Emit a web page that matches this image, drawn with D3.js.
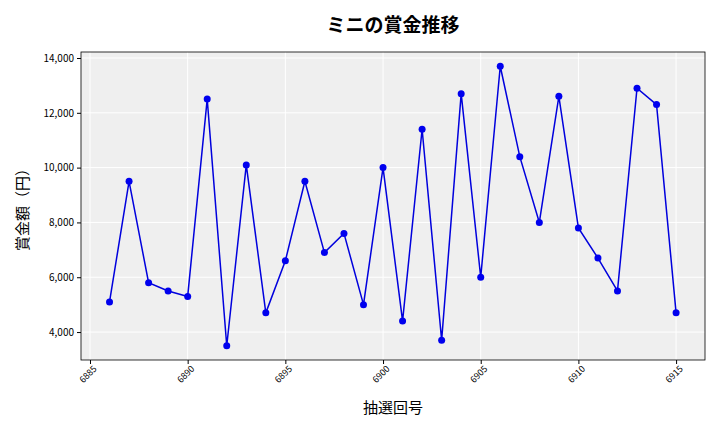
<!DOCTYPE html>
<html><head><meta charset="utf-8">
<script src="https://cdn.jsdelivr.net/npm/d3@7"></script>
<style>body{margin:0;background:#fff}text{font-family:"Noto Sans CJK JP","DejaVu Sans",sans-serif}</style>
</head><body><svg id="c" width="720" height="432"></svg>
<script>
const draws=[6886,6887,6888,6889,6890,6891,6892,6893,6894,6895,6896,6897,6898,6899,6900,6901,6902,6903,6904,6905,6906,6907,6908,6909,6910,6911,6912,6913,6914,6915];
const prizes=[5100,9500,5800,5500,5300,12500,3500,10100,4700,6600,9500,6900,7600,5000,10000,4400,11400,3700,12700,6000,13700,10400,8000,12600,7800,6700,5500,12900,12300,4700];
const xTicks=[6885,6890,6895,6900,6905,6910,6915];
const yTicks=[4000,6000,8000,10000,12000,14000];
const svg=d3.select("#c");
const L=81,R=705,T=52,B=360;
const x=d3.scaleLinear().domain([6884.54,6916.48]).range([L,R]);
const y=d3.scaleLinear().domain([2980,14219]).range([B,T]);
svg.append("rect").attr("x",L).attr("y",T).attr("width",R-L).attr("height",B-T).attr("fill","#efefef");
const g=svg.append("g");
xTicks.forEach(t=>g.append("line").attr("x1",x(t)).attr("x2",x(t)).attr("y1",T).attr("y2",B).attr("stroke","#fff").attr("stroke-width",1));
yTicks.forEach(t=>g.append("line").attr("y1",y(t)).attr("y2",y(t)).attr("x1",L).attr("x2",R).attr("stroke","#fff").attr("stroke-width",1));
svg.append("rect").attr("x",L).attr("y",T).attr("width",R-L).attr("height",B-T).attr("fill","none").attr("stroke","#000").attr("stroke-width",0.8);
const xa=svg.append("g").attr("transform",`translate(0,${B})`).call(d3.axisBottom(x).tickValues(xTicks).tickFormat(d3.format("d")).tickSize(4));
xa.select(".domain").remove();
xa.selectAll("text").attr("font-size",9).attr("text-anchor","end").attr("dx","-0.2em").attr("dy","0.5em").attr("transform","rotate(-45)");
const ya=svg.append("g").attr("transform",`translate(${L},0)`).call(d3.axisLeft(y).tickValues(yTicks).tickFormat(d3.format(",")).tickSize(4));
ya.select(".domain").remove();
ya.selectAll("text").attr("font-size",10);
const line=d3.line().x((d,i)=>x(draws[i])).y(d=>y(d));
svg.append("path").datum(prizes).attr("d",line).attr("fill","none").attr("stroke","#0000dd").attr("stroke-width",1.5);
svg.selectAll("circle.p").data(prizes).enter().append("circle").attr("cx",(d,i)=>x(draws[i])).attr("cy",d=>y(d)).attr("r",3.5).attr("fill","#0000ee");
svg.append("text").attr("x",393).attr("y",32).attr("text-anchor","middle").attr("font-size",19).attr("font-weight","bold").text("ミニの賞金推移");
svg.append("text").attr("x",393).attr("y",413).attr("text-anchor","middle").attr("font-size",15).text("抽選回号");
svg.append("text").attr("transform","translate(28,206) rotate(-90)").attr("text-anchor","middle").attr("font-size",15).text("賞金額（円）");
</script></body></html>
